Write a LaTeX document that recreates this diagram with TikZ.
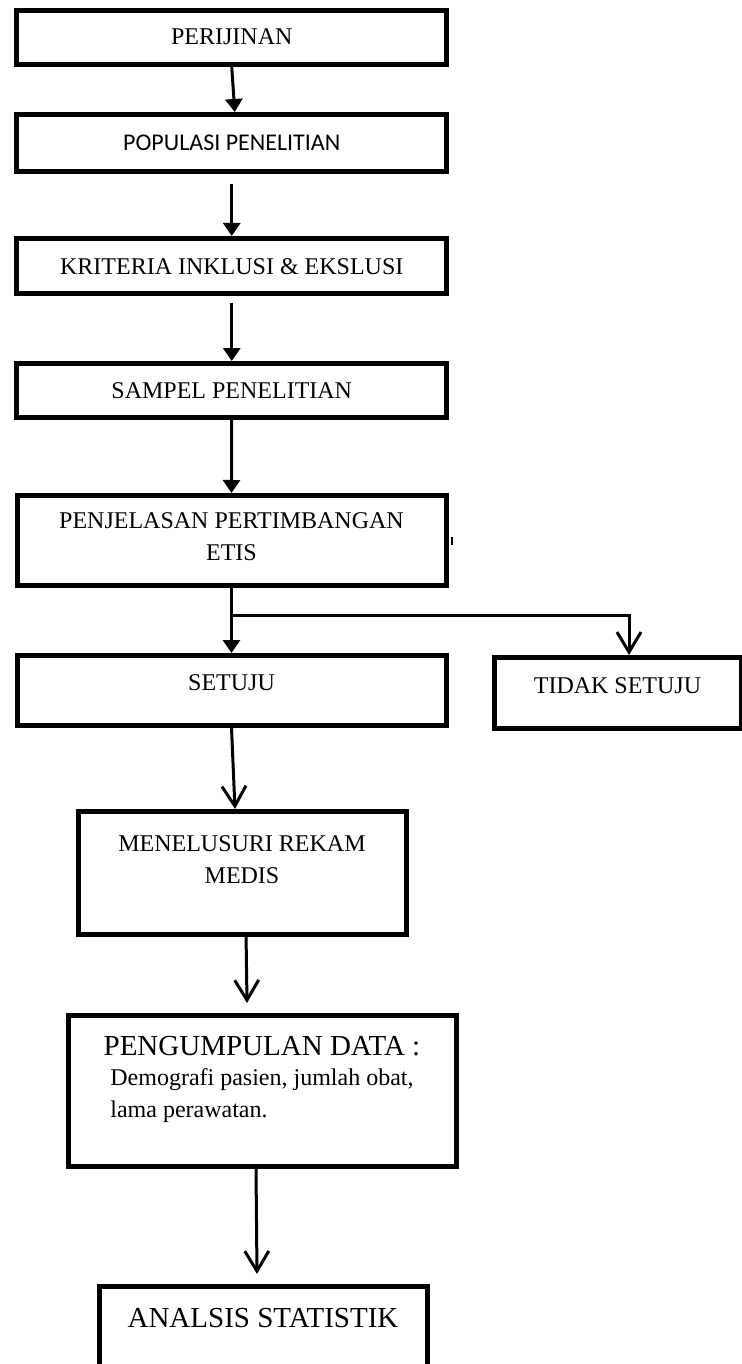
\documentclass[tikz,border=0pt]{standalone}
\usepackage{fontspec}
\setmainfont{Liberation Serif}
\newfontfamily\calibri{Carlito}
\usetikzlibrary{arrows.meta}
\tikzset{
  every picture/.style={line width=1.5pt},
  box/.style={draw, line width=2.5pt, inner sep=0pt, anchor=north, align=center, font=\fontsize{12}{16}\selectfont},
  arrow/.style={-{Triangle[length=6.5pt, width=8.5pt]}, line width=1.5pt},
  openarrow/.style={-{Straight Barb[length=10pt, width=12pt]}, line width=1.5pt},
}

\begin{document}
\begin{tikzpicture}[x=0.5pt, y=-0.5pt]
  \useasboundingbox (0,0) rectangle (742,1364);
  % upper column
  \node[box, minimum width=215pt, text height=17pt, text depth=10pt] (perijinan) at (231.75,8) {PERIJINAN};
  \node[box, minimum width=215pt, text height=18pt, text depth=10.5pt, font=\calibri\fontsize{12}{16}\selectfont] (populasi) at (231.75,112) {POPULASI PENELITIAN};
  \node[box, minimum width=215pt, text height=18pt, text depth=9.5pt] (kriteria) at (231.75,236) {KRITERIA INKLUSI \& EKSLUSI};
  \node[box, minimum width=215pt, text height=17.5pt, text depth=9.5pt] (sampel) at (231.75,361) {SAMPEL PENELITIAN};
  \node[box, minimum width=214.5pt, text height=32.5pt, text depth=12.5pt] (penjelasan) at (231.5,493) {PENJELASAN PERTIMBANGAN\\ETIS};
  % branch
  \node[box, minimum width=214.5pt, text height=17.5pt, text depth=17.5pt] (setuju) at (231.5,653) {SETUJU};
  \node[box, minimum width=123.5pt, text height=18pt, text depth=17.5pt] (tidak) at (617.5,655) {TIDAK SETUJU};
  % lower column
  \node[box, minimum width=164pt, text height=36pt, text depth=25.5pt] (menelusuri) at (242,809) {MENELUSURI REKAM\\MEDIS};
  \node[box, minimum width=194pt, text height=51pt, text depth=24.5pt] (pengumpulan) at (262,1013)
    {{\fontsize{14.5}{16}\selectfont PENGUMPULAN DATA :}\\[-1pt]Demografi pasien, jumlah obat,\\\rlap{lama perawatan.}\phantom{Demografi pasien, jumlah obat,}};
  \node[box, minimum width=164pt, text height=20.5pt, text depth=47.5pt, font=\fontsize{14.5}{16}\selectfont] (analisis) at (263,1284) {ANALSIS STATISTIK};
  \coordinate (split) at (231.5,615);
  % connectors
  \draw[arrow] (perijinan.south) -- ([xshift=1.5pt]populasi.north);
  \draw[arrow] ([yshift=-5pt]populasi.south) -- (kriteria.north);
  \draw[arrow] ([yshift=-3.5pt]kriteria.south) -- (sampel.north);
  \draw[arrow] ([yshift=2.5pt]sampel.south) -- (penjelasan.north);
  \draw[arrow] (penjelasan.south) -- (setuju.north);
  \draw[openarrow] (split) -| ([xshift=5.75pt]tidak.north);
  \draw[line width=1pt] ([xshift=1.5pt,yshift=2pt]penjelasan.east) -- ++(0,-4pt);
  \draw[openarrow] (setuju.south) -- ([xshift=-3.5pt]menelusuri.north);
  \draw[openarrow] ([xshift=2pt,yshift=2.5pt]menelusuri.south) -- ([xshift=-7.5pt,yshift=5pt]pengumpulan.north);
  \draw[openarrow] ([xshift=-3pt]pengumpulan.south) -- ([xshift=-3pt,yshift=5pt]analisis.north);
\end{tikzpicture}
\end{document}
